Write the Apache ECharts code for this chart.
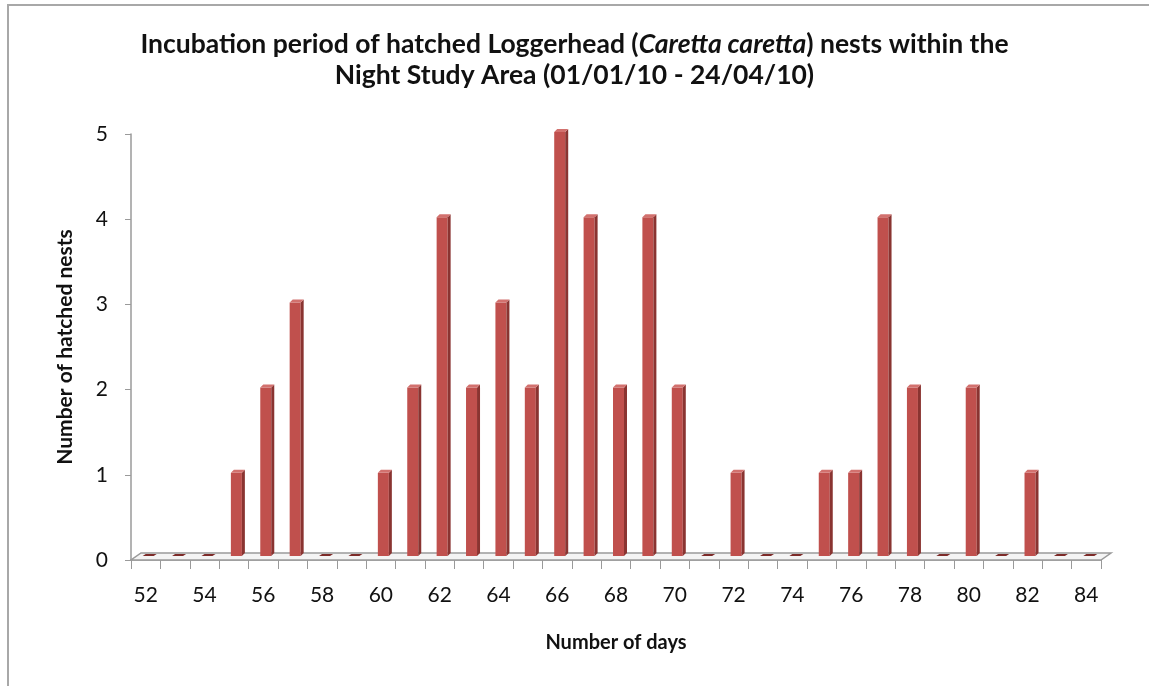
<!DOCTYPE html>
<html>
<head>
<meta charset="utf-8">
<script src="https://cdn.jsdelivr.net/npm/echarts@6/dist/echarts.min.js"></script>
<style>html,body{margin:0;padding:0;background:#fff;}#c{width:1149px;height:686px;}</style>
</head>
<body>
<div id="c"></div>
<script>
const days = ['52','53','54','55','56','57','58','59','60','61','62','63','64','65','66','67','68','69','70','71','72','73','74','75','76','77','78','79','80','81','82','83','84'];
const nests = [0,0,0,1,2,3,0,0,1,2,4,2,3,2,5,4,2,4,2,0,1,0,0,1,1,4,2,0,2,0,1,0,0];
const yTicks = [0,1,2,3,4,5];

const FONT = 'Lato, "Open Sans", sans-serif';
const chart = echarts.init(document.getElementById('c'), null, {renderer:'canvas'});

function renderBar(params, api) {
  const i = api.value(0), v = api.value(1);
  const base = api.coord([i, 0]);
  const top = api.coord([i, v]);
  const cx = base[0];
  const sx = 5, sy = -4;          // depth shift
  const w = 11, d = 3;            // front width, side depth
  const x0 = cx - 8 + sx;
  const yb = base[1] + sy;
  if (v === 0) {
    return {type:'polygon', shape:{points:[[x0, yb],[x0+w, yb],[x0+w+d, yb-2],[x0+d, yb-2]]},
      style:{fill:'#7d2b29'}};
  }
  const yt = top[1] + sy + 2;
  return {type:'group', children:[
    {type:'rect', shape:{x:x0, y:yt, width:w, height:yb-yt}, style:{fill:'#C0504D'}},
    {type:'polygon', shape:{points:[[x0+w, yt],[x0+w+d, yt-d],[x0+w+d, yb-d],[x0+w, yb]]}, style:{fill:'#8a3431'}},
    {type:'polygon', shape:{points:[[x0, yt],[x0+d, yt-d],[x0+w+d, yt-d],[x0+w, yt]]}, style:{fill:'#d2716e'}}
  ]};
}

function renderFloor(params, api) {
  const cs = params.coordSys;
  const x1 = cs.x, x2 = cs.x + cs.width, y = cs.y + cs.height;
  const dx = 10, dy = -7;
  return {type:'polygon', shape:{points:[[x1,y],[x2,y],[x2+dx,y+dy],[x1+dx,y+dy]]},
    style:{fill:'#f4f4f4', stroke:'#9a9a9a', lineWidth:1.5}};
}

chart.setOption({
  animation:false,
  backgroundColor:'#fff',
  graphic:[
    {type:'polyline', shape:{points:[[8,686],[8,5],[1149,5]]}, style:{stroke:'#a8a8a8', lineWidth:2, fill:null}}
  ],
  title:{
    left:'center', top:24,
    text:'{b|Incubation period of hatched Loggerhead (}{i|Caretta caretta}{b|) nests within the}\n{b|Night Study Area (01/01/10 - 24/04/10)}',
    textStyle:{
      fontFamily:FONT, fontSize:26.5, lineHeight:31, fontWeight:'bold', color:'#111',
      rich:{
        b:{fontFamily:FONT, fontSize:26.5, lineHeight:31, fontWeight:'bold', color:'#111'},
        i:{fontFamily:FONT, fontSize:26.5, lineHeight:31, fontWeight:'bold', fontStyle:'italic', color:'#111'}
      }
    }
  },
  grid:{left:131, right:48, top:134, bottom:126, containLabel:false},
  xAxis:{
    type:'category', data:days, boundaryGap:true,
    name:'Number of days', nameLocation:'middle', nameGap:73,
    nameTextStyle:{fontFamily:FONT, fontSize:20, fontWeight:'bold', color:'#111'},
    axisLine:{show:true, lineStyle:{color:'#9a9a9a', width:1.5}},
    axisTick:{show:true, interval:0, length:9, inside:false, lineStyle:{color:'#9a9a9a'}},
    axisLabel:{interval:1, margin:25, fontFamily:FONT, fontSize:21, color:'#111'},
    splitLine:{show:false}
  },
  yAxis:{
    type:'value', min:0, max:5, interval:1,
    name:'Number of hatched nests', nameLocation:'middle', nameGap:55, nameRotate:90,
    nameTextStyle:{fontFamily:FONT, fontSize:21, fontWeight:'bold', color:'#111'},
    axisLine:{show:true, lineStyle:{color:'#9a9a9a', width:1.5}},
    axisTick:{show:true, length:6, lineStyle:{color:'#9a9a9a'}},
    axisLabel:{margin:23, fontFamily:FONT, fontSize:21, color:'#111',
      formatter:function(v){ return yTicks.indexOf(v) >= 0 ? String(v) : ''; }},
    splitLine:{show:false}
  },
  series:[
    {type:'custom', z:1, renderItem:renderFloor, data:[[0,0]], silent:true},
    {type:'custom', z:2, renderItem:renderBar, encode:{x:0, y:1},
      data:nests.map(function(v,i){return [i, v];})}
  ]
});
</script>
</body>
</html>
